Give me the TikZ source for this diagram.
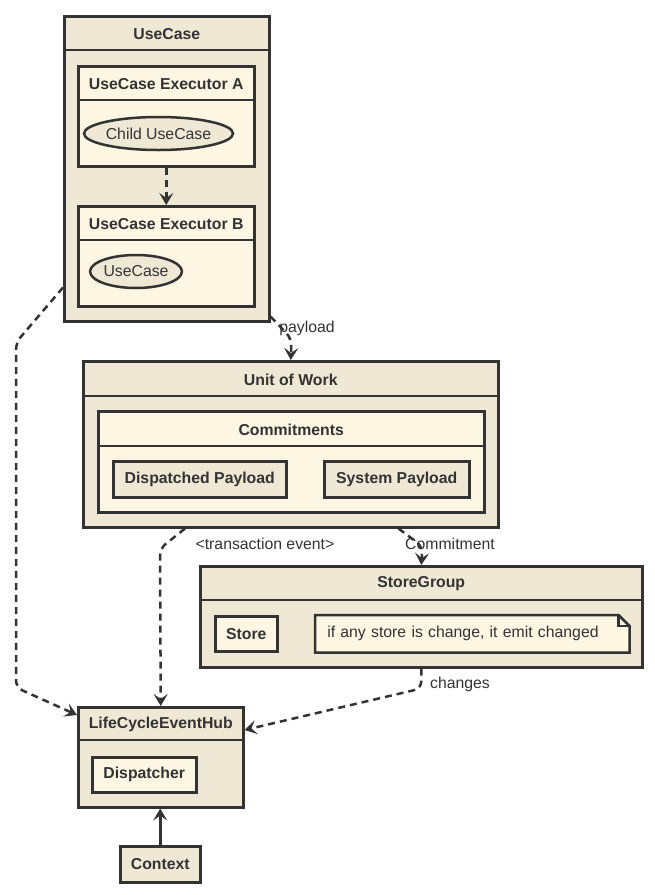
\documentclass[tikz,border=0pt]{standalone}
\usepackage{fontspec}
\setmainfont{Liberation Sans}
\usetikzlibrary{arrows.meta,positioning,calc,shapes.geometric}
\definecolor{boxfill}{HTML}{EEE8D5}
\definecolor{boxfillalt}{HTML}{FDF6E3}
\definecolor{ink}{HTML}{333333}

\begin{document}
\begin{tikzpicture}[x=1pt, y=-1pt,
  frame/.style={draw=ink, line width=2.5pt, fill=boxfill, anchor=north west, inner sep=0pt},
  framealt/.style={frame, fill=boxfillalt},
  title/.style={font=\fontsize{15.8}{18}\selectfont\bfseries, text=ink, inner sep=0pt},
  leaf/.style={frame, font=\fontsize{15.8}{18}\selectfont\bfseries, text=ink},
  leafalt/.style={leaf, fill=boxfillalt},
  usecase/.style={ellipse, draw=ink, line width=2.5pt, fill=boxfill, minimum height=33pt, inner sep=0pt, font=\fontsize{15.8}{18}\selectfont, text=ink},
  rule/.style={draw=ink, line width=2.5pt},
  dep/.style={draw=ink, line width=2.5pt, dash pattern=on 7pt off 5pt, rounded corners=7pt, -{Stealth[length=12pt, width=14pt, inset=5pt]}},
  use/.style={draw=ink, line width=2.5pt, -{Stealth[length=12pt, width=14pt, inset=5pt]}},
  lbl/.style={font=\fontsize{15.8}{18}\selectfont, text=ink, inner sep=0pt},
]
  \useasboundingbox (0,0) rectangle (654,895);

  % containers
  \node[frame, minimum width=205pt, minimum height=305pt] (usecase) at (63,15) {};
  \node[framealt, minimum width=176pt, minimum height=100pt] (execA) at (77,65) {};
  \node[framealt, minimum width=176pt, minimum height=100pt] (execB) at (77,205) {};
  \node[frame, minimum width=415pt, minimum height=166pt] (uow) at (82,360) {};
  \node[framealt, minimum width=386pt, minimum height=101pt] (commits) at (97,410) {};
  \node[frame, minimum width=442pt, minimum height=101pt] (storegroup) at (199,565) {};
  \node[frame, minimum width=165pt, minimum height=100pt] (hub) at (77,706) {};

  \foreach \c/\h/\t in {usecase/35/UseCase, execA/35/UseCase Executor A, execB/35/UseCase Executor B,
                        uow/36/Unit of Work, commits/36/Commitments, storegroup/35/StoreGroup, hub/34/LifeCycleEventHub} {
    \draw[rule] ($(\c.north west)+(0,\h)$) -- ($(\c.north east)+(0,\h)$);
    \node[title] (\c-title) at ($(\c.north)+(0,\h/2+1.5)$) {\t};
  }

  % contents
  \node[usecase, minimum width=133pt] (child) at (158.5,133.5) {Child UseCase};
  \node[usecase, minimum width=88pt] (inner) at (136,271.5) {UseCase};
  \node[leaf, minimum width=173pt, minimum height=36pt] (dispatched) at (112,460) {Dispatched Payload};
  \node[leaf, minimum width=145pt, minimum height=36pt] (system) at (323,460) {System Payload};
  \node[leafalt, minimum width=62pt, minimum height=35pt] (store) at (214,615) {Store};
  \node[leafalt, minimum width=311pt, minimum height=35pt, font=\fontsize{15.8}{18}\selectfont,
        text width=290pt, align=left, inner xsep=11pt, draw=none] (note) at (315,615) {if any store is change, it emit changed};
  \fill[boxfill] ($(note.north east)+(-11,0)$) -- (note.north east) -- ($(note.north east)+(0,11)$) -- cycle;
  \draw[rule, line join=miter] (note.north west) -- ($(note.north east)+(-11,0)$) -- ($(note.north east)+(0,11)$)
    -- (note.south east) -- (note.south west) -- cycle;
  \draw[rule] ($(note.north east)+(-11,0)$) |- ($(note.north east)+(0,11)$);
  \node[leafalt, minimum width=104pt, minimum height=35pt] (dispatcher) at (91,756) {Dispatcher};
  \node[leaf, minimum width=80pt, minimum height=36pt] (context) at (119,845) {Context};

  % connectors
  \draw[dep] (execA.south) -- (execB.north);
  \draw[dep] ($(usecase.south east)+(0,-6)$) -- ++(21,22) -- (uow.north);
  \node[lbl] (payloadL) at (307,328) {payload};
  \draw[dep] ($(uow.south west)+(103,0)$) -- ++(-25,20) -- (hub.north);
  \node[lbl] (transL) at (265,544) {<transaction event>};
  \draw[dep] ($(uow.south east)+(-101,0)$) -- ++(24,18) -- (storegroup.north);
  \node[lbl] (commitL) at (450,544) {Commitment};
  \draw[dep] (storegroup.south) -- ++(0,20) -- ($(hub.north east)+(0,24)$);
  \node[lbl] (changesL) at (460,684) {changes};
  \draw[dep] ($(usecase.south west)+(0,-35)$) -- ++(-47,55) -- ++(0,345) -- ($(hub.north west)+(0,9)$);
  \draw[use] (context.north) -- (context.north |- hub.south);
\end{tikzpicture}
\end{document}
